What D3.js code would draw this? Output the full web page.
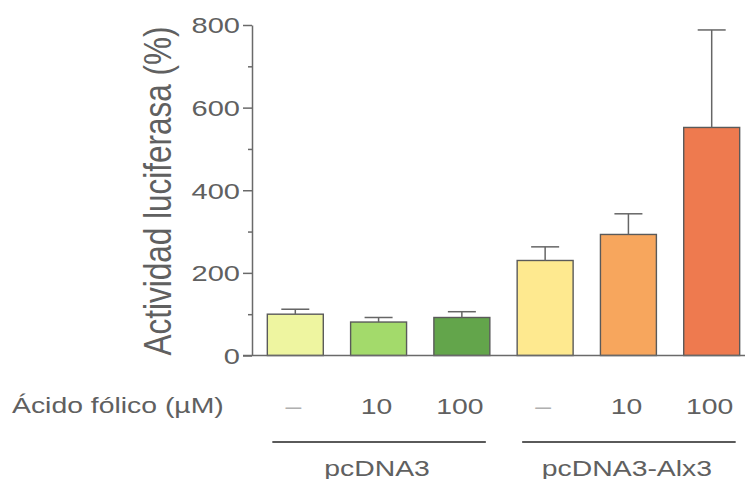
<!DOCTYPE html>
<html>
<head>
<meta charset="utf-8">
<script src="https://cdn.jsdelivr.net/npm/d3@7"></script>
<style>
  html, body { margin: 0; padding: 0; background: #fff; }
  svg { display: block; }
  text { font-family: "Liberation Sans", Arial, Helvetica, sans-serif; fill: #606060; }
</style>
</head>
<body>
<svg id="chart" width="745" height="479"></svg>
<script>
// Luciferase activity (%) by folic acid dose, for each plasmid
const doseLabels = ["–", "10", "100", "–", "10", "100"];
const groupNames = ["pcDNA3", "pcDNA3-Alx3"];
const groupOf    = [0, 0, 0, 1, 1, 1];
const meanValues = [100, 81, 92, 230, 293, 552];
const semValues  = [12, 11, 14, 33, 50, 236];
const barColors  = ["#eef5a0", "#a3da6b", "#63a54b", "#fee98f", "#f7a65d", "#ee7a4f"];
const majorTicks = [0, 200, 400, 600, 800];
const minorTicks = [100, 300, 500, 700];
const yTitle = "Actividad luciferasa (%)";
const doseTitle = "Ácido fólico (µM)";

const svg = d3.select("#chart");
const axisColor = "#6a6a6a";
const sx = 1.32; // horizontal stretch of the typeface
const fs = "21.5px";

const y = d3.scaleLinear().domain([0, 800]).range([355.5, 25]);
const x = d3.scaleBand()
  .domain(d3.range(meanValues.length))
  .range([252, 755])
  .paddingInner(0.328)
  .paddingOuter(0.184);
const bw = x.bandwidth();

// Bars
svg.append("g").selectAll("rect")
  .data(meanValues)
  .join("rect")
  .attr("x", (d, i) => x(i))
  .attr("y", d => y(d))
  .attr("width", bw)
  .attr("height", d => y(0) - y(d))
  .attr("fill", (d, i) => barColors[i])
  .attr("stroke", "#5a5a5a")
  .attr("stroke-width", 1.4);

// Error bars (upper only)
const eb = svg.append("g").attr("stroke", "#666").attr("stroke-width", 1.5);
meanValues.forEach((m, i) => {
  const cx = x(i) + bw / 2;
  eb.append("line").attr("x1", cx).attr("x2", cx).attr("y1", y(m)).attr("y2", y(m + semValues[i]));
  eb.append("line").attr("x1", cx - 14).attr("x2", cx + 14)
    .attr("y1", y(m + semValues[i])).attr("y2", y(m + semValues[i]));
});

// Baseline
svg.append("line")
  .attr("x1", 243).attr("x2", 745)
  .attr("y1", y(0)).attr("y2", y(0))
  .attr("stroke", axisColor).attr("stroke-width", 1.5);

// Y axis: major ticks with labels
const yAxis = svg.append("g").attr("transform", "translate(252,0)")
  .call(d3.axisLeft(y).tickValues(majorTicks).tickSize(9).tickSizeOuter(0).tickFormat(d3.format("d")));
yAxis.select(".domain").attr("stroke", axisColor).attr("stroke-width", 1.5);
yAxis.selectAll(".tick line").attr("stroke", axisColor).attr("stroke-width", 1.5);
yAxis.selectAll(".tick text")
  .attr("x", null)
  .attr("dy", "0.36em")
  .attr("transform", `translate(-12,0) scale(${sx},1)`)
  .attr("text-anchor", "end")
  .style("font-size", "22px")
  .style("font-family", "'Liberation Sans', Arial, sans-serif")
  .attr("fill", "#606060");

// Y axis: minor ticks
const yMinor = svg.append("g").attr("transform", "translate(252,0)")
  .call(d3.axisLeft(y).tickValues(minorTicks).tickSize(4).tickSizeOuter(0).tickFormat(""));
yMinor.select(".domain").remove();
yMinor.selectAll(".tick line").attr("stroke", axisColor).attr("stroke-width", 1.5);

// Y axis title
svg.append("text")
  .attr("transform", `translate(157,191) rotate(-90) scale(1,1.25)`)
  .attr("text-anchor", "middle")
  .attr("dy", "0.36em")
  .style("font-size", "31.5px")
  .text(yTitle);

// Dose row
svg.append("text")
  .attr("transform", `translate(12,413) scale(${sx},1)`)
  .style("font-size", fs)
  .text(doseTitle);

svg.append("g").selectAll("text")
  .data(doseLabels)
  .join("text")
  .attr("transform", (d, i) => `translate(${x(i) + bw / 2 - 2},414) scale(${sx},1)`)
  .attr("text-anchor", "middle")
  .style("font-size", fs)
  .style("fill", d => d === "–" ? "#b0b0b0" : "#606060")
  .text(d => d);

// Plasmid group brackets and names
groupNames.forEach((g, gi) => {
  const idx = d3.range(meanValues.length).filter(i => groupOf[i] === gi);
  const x1 = x(idx[0]) + 5;
  const x2 = x(idx[idx.length - 1]) + bw - 4;
  svg.append("line")
    .attr("x1", x1).attr("x2", x2).attr("y1", 442).attr("y2", 442)
    .attr("stroke", "#5a5a5a").attr("stroke-width", 2);
  svg.append("text")
    .attr("transform", `translate(${(x1 + x2) / 2 - 2},476) scale(${sx},1)`)
    .attr("text-anchor", "middle")
    .style("font-size", fs)
    .text(g);
});
</script>
</body>
</html>
